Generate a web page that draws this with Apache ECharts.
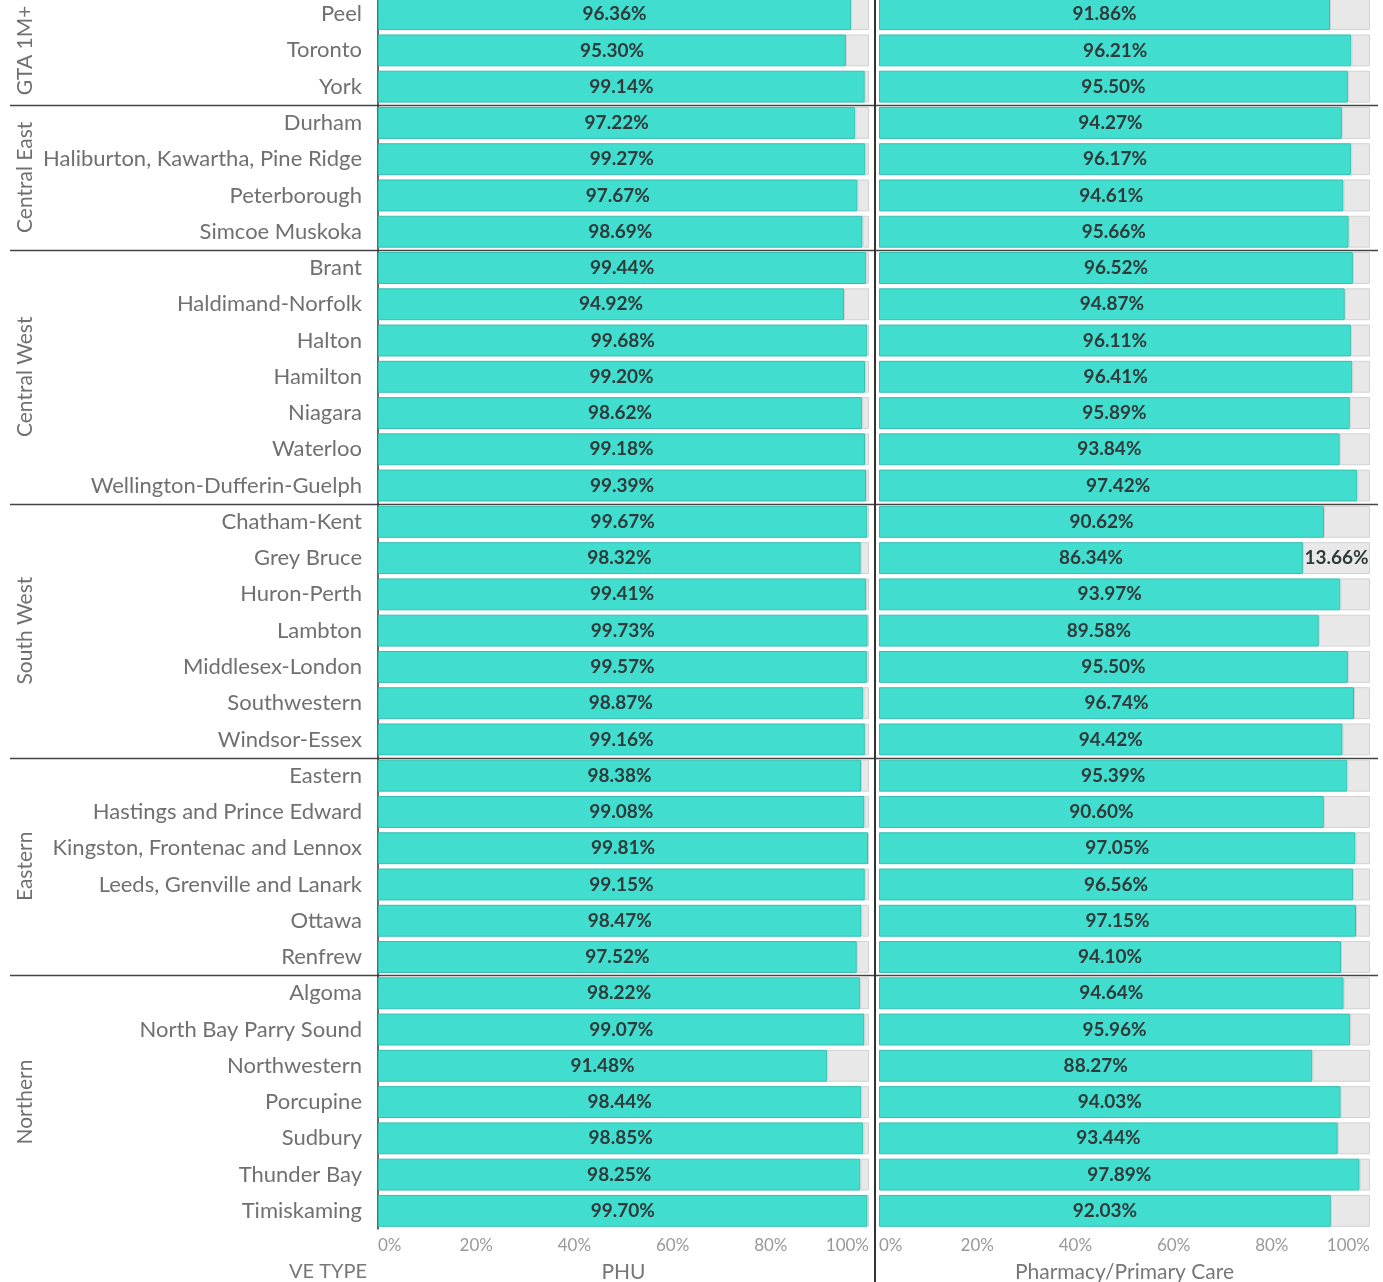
<!DOCTYPE html>
<html>
<head>
<meta charset="utf-8">
<script src="https://cdn.jsdelivr.net/npm/echarts@6/dist/echarts.min.js"></script>
<style>
  html, body { margin: 0; padding: 0; background: #fff; }
  #main { width: 1383px; height: 1282px; }
</style>
</head>
<body>
<div id="main"></div>
<script>
// regions and the health units in each one, top to bottom
var groups = ['GTA 1M+', 'Central East', 'Central West', 'South West', 'Eastern', 'Northern'];
var groupSizes = [3, 4, 7, 7, 6, 7];
var units = [
    'Peel', 'Toronto', 'York',
    'Durham', 'Haliburton, Kawartha, Pine Ridge', 'Peterborough', 'Simcoe Muskoka',
    'Brant', 'Haldimand-Norfolk', 'Halton', 'Hamilton', 'Niagara', 'Waterloo', 'Wellington-Dufferin-Guelph',
    'Chatham-Kent', 'Grey Bruce', 'Huron-Perth', 'Lambton', 'Middlesex-London', 'Southwestern', 'Windsor-Essex',
    'Eastern', 'Hastings and Prince Edward', 'Kingston, Frontenac and Lennox', 'Leeds, Grenville and Lanark', 'Ottawa', 'Renfrew',
    'Algoma', 'North Bay Parry Sound', 'Northwestern', 'Porcupine', 'Sudbury', 'Thunder Bay', 'Timiskaming'
];
var phu = [96.36, 95.30, 99.14, 97.22, 99.27, 97.67, 98.69, 99.44, 94.92, 99.68, 99.20, 98.62, 99.18, 99.39,
    99.67, 98.32, 99.41, 99.73, 99.57, 98.87, 99.16, 98.38, 99.08, 99.81, 99.15, 98.47, 97.52,
    98.22, 99.07, 91.48, 98.44, 98.85, 98.25, 99.70];
var phuRest = [3.64, 4.70, 0.86, 2.78, 0.73, 2.33, 1.31, 0.56, 5.08, 0.32, 0.80, 1.38, 0.82, 0.61,
    0.33, 1.68, 0.59, 0.27, 0.43, 1.13, 0.84, 1.62, 0.92, 0.19, 0.85, 1.53, 2.48,
    1.78, 0.93, 8.52, 1.56, 1.15, 1.75, 0.30];
var pharmacy = [91.86, 96.21, 95.50, 94.27, 96.17, 94.61, 95.66, 96.52, 94.87, 96.11, 96.41, 95.89, 93.84, 97.42,
    90.62, 86.34, 93.97, 89.58, 95.50, 96.74, 94.42, 95.39, 90.60, 97.05, 96.56, 97.15, 94.10,
    94.64, 95.96, 88.27, 94.03, 93.44, 97.89, 92.03];
var pharmacyRest = [8.14, 3.79, 4.50, 5.73, 3.83, 5.39, 4.34, 3.48, 5.13, 3.89, 3.59, 4.11, 6.16, 2.58,
    9.38, 13.66, 6.03, 10.42, 4.50, 3.26, 5.58, 4.61, 9.40, 2.95, 3.44, 2.85, 5.90,
    5.36, 4.04, 11.73, 5.97, 6.56, 2.11, 7.97];
var xTicks = [0, 20, 40, 60, 80, 100];

var TEAL = '#41DDCE';
var REST = '#E8E8E8';
var FONT = 'Lato, "Open Sans", sans-serif';

var chart = echarts.init(document.getElementById('main'));

function pct(v) { return v.toFixed(2) + '%'; }

function xAxisFor(idx, name) {
    return {
        type: 'value', gridIndex: idx, min: xTicks[0], max: xTicks[xTicks.length - 1], interval: 20,
        name: name, nameLocation: 'middle', nameGap: 33,
        nameTextStyle: { color: '#777', fontSize: 21, fontFamily: FONT },
        axisLine: { show: false }, axisTick: { show: false }, splitLine: { show: false },
        axisLabel: {
            color: '#999', fontSize: 17, fontFamily: FONT, margin: 8,
            alignMinLabel: 'left', alignMaxLabel: 'right',
            formatter: '{value}%'
        }
    };
}

function yAxisFor(idx, showLabels) {
    return {
        type: 'category', gridIndex: idx, data: units, inverse: true,
        axisTick: { show: false },
        axisLine: { show: showLabels, lineStyle: { color: '#333', width: 1.5 } },
        axisLabel: { show: showLabels, color: '#707070', fontSize: 22, fontFamily: FONT, margin: 16 }
    };
}

function bars(idx, vals, rest) {
    return [{
        type: 'bar', xAxisIndex: idx, yAxisIndex: idx, stack: 's' + idx, data: vals,
        barCategoryGap: '12%',
        itemStyle: { color: TEAL, borderColor: '#34bfb1', borderWidth: 1 },
        label: {
            show: true, position: 'inside', color: '#2f3a3a', fontWeight: 'bold', fontSize: 19, fontFamily: FONT,
            formatter: function (p) { return pct(p.value); }
        },
        silent: true
    }, {
        type: 'bar', xAxisIndex: idx, yAxisIndex: idx, stack: 's' + idx, data: rest,
        itemStyle: { color: REST, borderColor: '#d2d2d2', borderWidth: 1 },
        label: {
            show: true, position: 'inside', color: '#2f3a3a', fontWeight: 'bold', fontSize: 19, fontFamily: FONT,
            formatter: function (p) { return p.value >= 12 ? pct(p.value) : ''; }
        },
        silent: true
    }];
}

var option = {
    animation: false,
    grid: [
        { left: 378, width: 491, top: -4, height: 1233, outerBoundsMode: 'none', containLabel: false },
        { left: 879, width: 491, top: -4, height: 1233, outerBoundsMode: 'none', containLabel: false }
    ],
    xAxis: [xAxisFor(0, 'PHU'), xAxisFor(1, 'Pharmacy/Primary Care')],
    yAxis: [yAxisFor(0, true), yAxisFor(1, false)],
    series: bars(0, phu, phuRest).concat(bars(1, pharmacy, pharmacyRest))
};
chart.setOption(option);

// region labels and separators, placed from the category scale
var gfx = [];
var start = 0;
var half = (chart.convertToPixel({ yAxisIndex: 0 }, units[1]) - chart.convertToPixel({ yAxisIndex: 0 }, units[0])) / 2;
groups.forEach(function (g, i) {
    var end = start + groupSizes[i] - 1;
    var yTop = chart.convertToPixel({ yAxisIndex: 0 }, units[start]);
    var yBot = chart.convertToPixel({ yAxisIndex: 0 }, units[end]);
    gfx.push({
        type: 'text', x: 25, y: (yTop + yBot) / 2, rotation: Math.PI / 2,
        style: { text: g, fill: '#707070', font: '21px ' + FONT, align: 'center', verticalAlign: 'middle' }
    });
    if (i < groups.length - 1) {
        var ySep = Math.round(yBot + half) + 0.5;
        gfx.push({
            type: 'line', shape: { x1: 10, y1: ySep, x2: 1378, y2: ySep },
            style: { stroke: '#444', lineWidth: 1.5 }
        });
    }
    start = end + 1;
});
gfx.push({
    type: 'line', shape: { x1: 875, y1: 0, x2: 875, y2: 1282 },
    style: { stroke: '#333', lineWidth: 2 }
});
gfx.push({
    type: 'text', x: 328, y: 1272,
    style: { text: 'VE TYPE', fill: '#777', font: '20px ' + FONT, align: 'center', verticalAlign: 'middle' }
});
chart.setOption({ graphic: gfx });
</script>
</body>
</html>
